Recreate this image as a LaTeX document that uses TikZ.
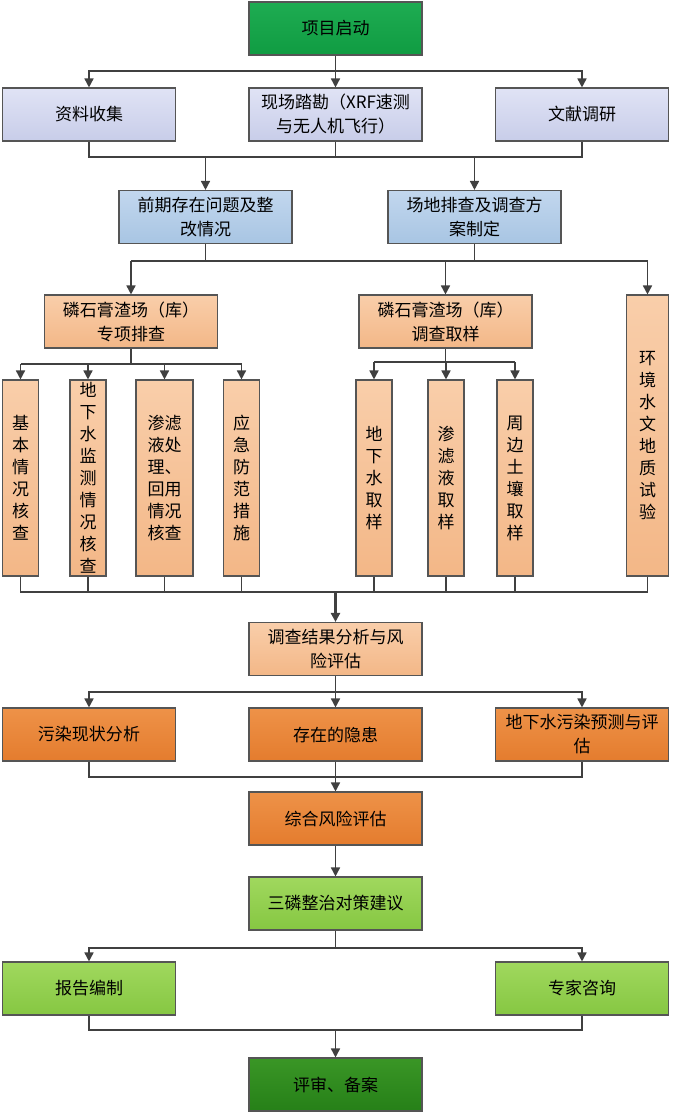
\documentclass[tikz,border=0pt]{standalone}
\usepackage{fontspec}
\setmainfont{Noto Sans CJK SC}
\usetikzlibrary{arrows.meta}
\definecolor{boxline}{RGB}{85,85,85}
\definecolor{linkgray}{RGB}{64,64,64}
\tikzset{
  stage/.style={draw=boxline,line width=1.1bp,minimum width=173bp,minimum height=53bp,inner sep=2bp,align=center,font=\fontsize{17bp}{24bp}\selectfont},
  kickoff/.style={stage,top color={rgb,255:red,30;green,172;blue,82},bottom color={rgb,255:red,16;green,156;blue,66}},
  inquiry/.style={stage,top color={rgb,255:red,224;green,227;blue,245},bottom color={rgb,255:red,200;green,205;blue,233}},
  scheme/.style={stage,top color={rgb,255:red,194;green,215;blue,238},bottom color={rgb,255:red,168;green,197;blue,227}},
  survey/.style={stage,top color={rgb,255:red,249;green,206;blue,170},bottom color={rgb,255:red,243;green,183;blue,135}},
  column/.style={survey,minimum width=36bp,minimum height=196bp,text width=18bp,font=\fontsize{17bp}{22bp}\selectfont},
  hazard/.style={stage,top color={rgb,255:red,238;green,146;blue,72},bottom color={rgb,255:red,228;green,124;blue,46}},
  advice/.style={stage,top color={rgb,255:red,160;green,216;blue,94},bottom color={rgb,255:red,134;green,199;blue,66}},
  closure/.style={stage,top color={rgb,255:red,58;green,150;blue,38},bottom color={rgb,255:red,38;green,128;blue,24}},
  link/.style={draw=linkgray,line width=1.6bp},
  flow/.style={link,-{Triangle[length=9bp,width=9bp]}}
}

\begin{document}
\begin{tikzpicture}[x=1bp,y=-1bp]
  \useasboundingbox (0,0) rectangle (674,1116);
  % start and first studies
  \node[kickoff] (start) at (335.5,28.5) {项目启动};
  \node[inquiry] (collect) at (89,114.5) {资料收集};
  \node[inquiry] (visit) at (335.5,114.5) {现场踏勘（XRF速测\\与无人机飞行）};
  \node[inquiry] (liter) at (582,114.5) {文献调研};
  \node[scheme] (issues) at (205.5,217) {前期存在问题及整\\改情况};
  \node[scheme] (plan) at (474.5,217) {场地排查及调查方\\案制定};
  % gypsum stack work
  \node[survey] (inspect) at (131,321.5) {磷石膏渣场（库）\\专项排查};
  \node[survey] (sample) at (445.5,321.5) {磷石膏渣场（库）\\调查取样};
  \node[column,minimum width=42bp,minimum height=281bp] (hydro) at (647.5,435.5) {环\\境\\水\\文\\地\\质\\试\\验};
  \node[column] (basic) at (20.5,478) {基\\本\\情\\况\\核\\查};
  \node[column] (gwmon) at (88,478) {地\\下\\水\\监\\测\\情\\况\\核\\查};
  \node[column,minimum width=57bp,text width=36bp] (leach) at (164.5,478) {渗滤\\液处\\理、\\回用\\情况\\核查};
  \node[column] (emerg) at (241.5,478) {应\\急\\防\\范\\措\\施};
  \node[column] (gwsmp) at (374,478) {地\\下\\水\\取\\样};
  \node[column] (lqsmp) at (446,478) {渗\\滤\\液\\取\\样};
  \node[column] (soil) at (515,478) {周\\边\\土\\壤\\取\\样};
  % assessment
  \node[survey] (result) at (335.5,649) {调查结果分析与风\\险评估};
  \node[hazard] (pollut) at (89,734.5) {污染现状分析};
  \node[hazard] (danger) at (335.5,734.5) {存在的隐患};
  \node[hazard] (predict) at (582,734.5) {地下水污染预测与评\\估};
  \node[hazard] (synth) at (335.5,818.5) {综合风险评估};
  \node[advice] (measure) at (335.5,903.5) {三磷整治对策建议};
  \node[advice] (report) at (89,988.5) {报告编制};
  \node[advice] (expert) at (582,988.5) {专家咨询};
  \node[closure] (review) at (335.5,1084.5) {评审、备案};

  % connectors
  \coordinate (fork1) at (335.5,71);
  \draw[link] (start) -- (fork1);
  \draw[flow] (fork1) -| (collect.north);
  \draw[flow] (fork1) -- (visit);
  \draw[flow] (fork1) -| (liter.north);
  \coordinate (join1) at (335.5,157);
  \draw[link] (collect.south) |- (join1) -| (liter.south);
  \draw[link] (visit) -- (join1);
  \draw[flow] (issues.north |- join1) -- (issues);
  \draw[flow] (plan.north |- join1) -- (plan);

  \coordinate (fork2) at (0,261);
  \draw[link] (issues) -- (issues |- fork2);
  \draw[link] (plan) -- (plan |- fork2);
  \draw[link] (inspect |- fork2) -- (hydro |- fork2);
  \draw[flow] (inspect |- fork2) -- (inspect);
  \draw[flow] (sample |- fork2) -- (sample);
  \draw[flow] (hydro |- fork2) -- (hydro);

  \coordinate (fork3) at (0,364);
  \draw[link] (inspect) -- (inspect |- fork3);
  \draw[link] (basic |- fork3) -- (emerg |- fork3);
  \draw[flow] (basic |- fork3) -- (basic);
  \draw[flow] (gwmon |- fork3) -- (gwmon);
  \draw[flow] (leach |- fork3) -- (leach);
  \draw[flow] (emerg |- fork3) -- (emerg);
  \coordinate (fork4) at (0,362);
  \draw[link] (sample) -- (sample |- fork4);
  \draw[link] (gwsmp |- fork4) -- (soil |- fork4);
  \draw[flow] (gwsmp |- fork4) -- (gwsmp);
  \draw[flow] (lqsmp |- fork4) -- (lqsmp);
  \draw[flow] (soil |- fork4) -- (soil);

  \coordinate (join2) at (335.5,592);
  \draw[link] (basic) -- (basic |- join2) -- (hydro |- join2) -- (hydro);
  \draw[link] (gwmon) -- (gwmon |- join2);
  \draw[link] (leach) -- (leach |- join2);
  \draw[link] (emerg) -- (emerg |- join2);
  \draw[link] (gwsmp) -- (gwsmp |- join2);
  \draw[link] (lqsmp) -- (lqsmp |- join2);
  \draw[link] (soil) -- (soil |- join2);
  \draw[flow,line width=2.6bp] (join2) -- (result);

  \coordinate (fork5) at (335.5,692);
  \draw[link] (result) -- (fork5);
  \draw[flow] (fork5) -| (pollut.north);
  \draw[flow] (fork5) -- (danger);
  \draw[flow] (fork5) -| (predict.north);
  \coordinate (join3) at (335.5,777);
  \draw[link] (pollut.south) |- (join3) -| (predict.south);
  \draw[flow] (danger) -- (synth);
  \draw[flow] (synth) -- (measure);

  \coordinate (fork6) at (335.5,948);
  \draw[link] (measure) -- (fork6);
  \draw[flow] (fork6) -| (report.north);
  \draw[flow] (fork6) -| (expert.north);
  \coordinate (join4) at (335.5,1030);
  \draw[link] (report.south) |- (join4) -| (expert.south);
  \draw[flow] (join4) -- (review);
\end{tikzpicture}
\end{document}
